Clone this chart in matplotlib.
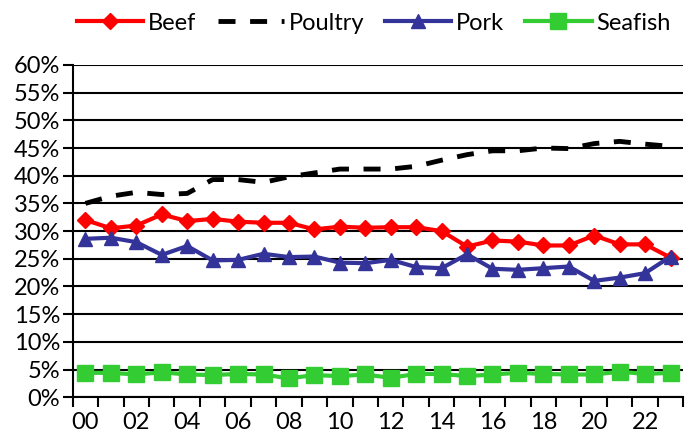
import matplotlib.pyplot as plt
import numpy as np

years = ["%02d" % y for y in range(24)]
beef = [32.0, 30.5, 31.0, 33.0, 31.8, 32.2, 31.7, 31.5, 31.5, 30.3, 30.8, 30.6,
        30.7, 30.7, 30.0, 27.2, 28.3, 28.1, 27.4, 27.4, 29.2, 27.6, 27.6, 25.2]
poultry = [35.0, 36.3, 37.0, 36.6, 36.8, 39.3, 39.3, 38.8, 39.8, 40.5, 41.2, 41.2,
           41.2, 41.7, 42.8, 43.8, 44.5, 44.5, 45.0, 44.9, 45.8, 46.2, 45.7, 45.3]
pork = [28.6, 28.8, 28.0, 25.7, 27.3, 24.7, 24.8, 25.9, 25.3, 25.4, 24.3, 24.2,
        24.8, 23.5, 23.3, 25.8, 23.2, 23.0, 23.3, 23.6, 21.0, 21.6, 22.4, 25.4]
seafish = [4.4, 4.4, 4.1, 4.5, 4.1, 4.0, 4.2, 4.1, 3.4, 4.0, 3.8, 4.1,
           3.5, 4.2, 4.2, 3.8, 4.1, 4.4, 4.2, 4.1, 4.1, 4.6, 4.2, 4.4]

plt.rcParams['font.family'] = ['Lato', 'DejaVu Sans']

fig = plt.figure(figsize=(6.86, 4.36), dpi=100)
ax = fig.add_axes([0.106, 0.089, 0.89, 0.762])

x = np.arange(len(years))
ax.plot(x, beef, color="#ff0000", lw=3, marker="D", ms=8, label="Beef", zorder=4)
ax.plot(x, poultry, color="black", lw=3.5, dashes=(3.5, 3), label="Poultry", zorder=3)
ax.plot(x, pork, color="#333399", lw=3, marker="^", ms=10, label="Pork", zorder=4)
ax.plot(x, seafish, color="#33cc33", lw=3, marker="s", ms=12, label="Seafish", zorder=4)

ax.set_ylim(0, 60)
ax.set_yticks(np.arange(0, 61, 5))
ax.set_yticklabels(["%d%%" % v for v in range(0, 61, 5)])
ax.set_xlim(-0.5, len(years) - 0.5)
ax.set_xticks(x[::2])
ax.set_xticklabels(years[::2])
ax.set_xticks(np.arange(-0.5, len(years)), minor=True)
ax.tick_params(axis="x", which="major", length=0, labelsize=17, pad=11)
ax.tick_params(axis="x", which="minor", length=7, width=1.5, direction="out")
ax.tick_params(axis="y", length=7, width=1.5, labelsize=17, pad=2)

ax.grid(axis="y", color="black", lw=1.5)
ax.set_axisbelow(True)
for s in ["top", "right"]:
    ax.spines[s].set_visible(False)
ax.spines["left"].set_linewidth(1.5)
ax.spines["bottom"].set_linewidth(1.5)

fig.legend(loc="upper center", bbox_to_anchor=(0.545, 1.02), ncol=4, frameon=False,
           fontsize=17, handlelength=2.8, columnspacing=0.9, handletextpad=0.2)

fig.savefig("out.png", dpi=100)
